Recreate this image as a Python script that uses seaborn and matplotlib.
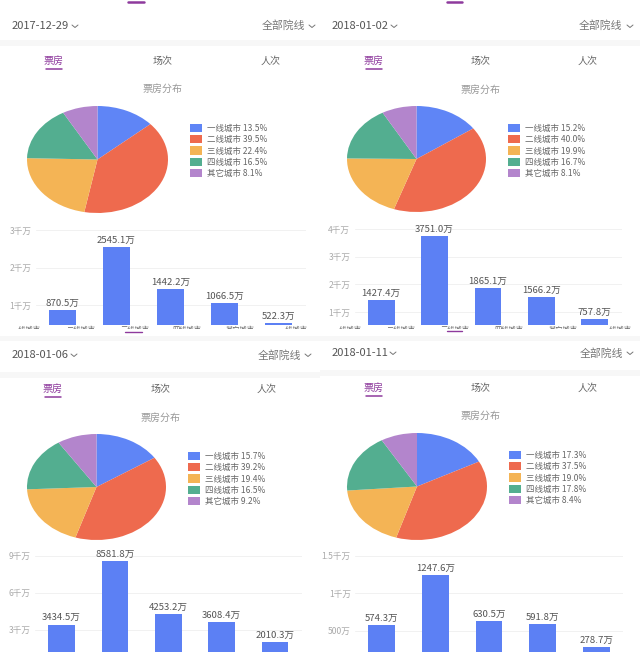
import matplotlib
matplotlib.use('Agg')
import matplotlib.pyplot as plt
from matplotlib.patches import Rectangle
import seaborn as sns

W, H = 640, 652

dates = ['2017-12-29', '2018-01-02', '2018-01-06', '2018-01-11']
city_names = ['一线城市', '二线城市', '三线城市', '四线城市', '其它城市']
colors = ['#5F85F6', '#EE6A4E', '#F4B455', '#53AE90', '#B385CC']
bar_color = '#5C80F4'
purple = '#8E3A9D'

shares_a = [13.5, 39.5, 22.4, 16.5, 8.1]
shares_b = [15.2, 40.0, 19.9, 16.7, 8.1]
shares_c = [15.7, 39.2, 19.4, 16.5, 9.2]
shares_d = [17.3, 37.5, 19.0, 17.8, 8.4]

box_a = [870.5, 2545.1, 1442.2, 1066.5, 522.3]
box_b = [1427.4, 3751.0, 1865.1, 1566.2, 757.8]
box_c = [3434.5, 8581.8, 4253.2, 3608.4, 2010.3]
box_d = [574.3, 1247.6, 630.5, 591.8, 278.7]

ticks_a = [1000, 2000, 3000]
ticks_b = [1000, 2000, 3000, 4000]
ticks_c = [3000, 6000, 9000]
ticks_d = [500, 1000, 1500]
tick_labels_a = ['1千万', '2千万', '3千万']
tick_labels_b = ['1千万', '2千万', '3千万', '4千万']
tick_labels_c = ['3千万', '6千万', '9千万']
tick_labels_d = ['500万', '1千万', '1.5千万']

# layout of each screenshot panel, all in pixels of the picture
panels = [
  dict(date=dates[0], shares=shares_a, box=box_a, ticks=ticks_a, tick_labels=tick_labels_a,
       pie=(27, 106, 168, 213), legend=(190, 124), bars=(35.5, 230, 305.5, 325), low=477,
       date_xy=(12, 26), all_xy=(262, 26), tab_x=(54, 163, 271), tab_y=61, title_y=89,
       title_x=163, chev=(75, 312), frag_y=326, frag_x=(26, 81, 135, 187, 240, 293),
       top_mark=(128, 144), low_mark=(125, 142, 331.5)),
  dict(date=dates[1], shares=shares_b, box=box_b, ticks=ticks_b, tick_labels=tick_labels_b,
       pie=(347, 106, 486, 212), legend=(508, 124), bars=(354.5, 229, 621.5, 325), low=540,
       date_xy=(332, 26), all_xy=(579, 26), tab_x=(374, 481, 588), tab_y=61, title_y=90,
       title_x=481, chev=(394, 630), frag_y=326, frag_x=(347, 401, 455, 509, 563, 617),
       top_mark=(447, 462), low_mark=(447, 462, 330.5)),
  dict(date=dates[2], shares=shares_c, box=box_c, ticks=ticks_c, tick_labels=tick_labels_c,
       pie=(27, 434, 166, 540), legend=(188, 452), bars=(35, 555.7, 301.5, 652), low=1210,
       date_xy=(12, 355), all_xy=(258, 355), tab_x=(53, 161, 267), tab_y=389, title_y=418,
       title_x=161, chev=(74, 308), frag_y=None, frag_x=(), top_mark=None, low_mark=None),
  dict(date=dates[3], shares=shares_d, box=box_d, ticks=ticks_d, tick_labels=tick_labels_d,
       pie=(347, 433, 487, 540), legend=(509, 451), bars=(355, 555.7, 623, 652), low=213,
       date_xy=(332, 353), all_xy=(580, 353), tab_x=(374, 481, 588), tab_y=388, title_y=416,
       title_x=481, chev=(393, 630), frag_y=None, frag_x=(), top_mark=None, low_mark=None),
]

sns.set_theme(style='white')
plt.rcParams['font.family'] = ['Noto Sans CJK SC', 'DejaVu Sans']


def px_rect(x0, y0, x1, y1):
  return [x0 / W, 1 - y1 / H, (x1 - x0) / W, (y1 - y0) / H]


def draw_header(bg, p):
  x, y = p['date_xy']
  bg.text(x, y, p['date'], fontsize=8, color='#555555', va='center', ha='left')
  bg.text(p['all_xy'][0], p['all_xy'][1], '全部院线', fontsize=7.8, color='#777777', va='center', ha='left')
  for cx, cy in ((p['chev'][0], y), (p['chev'][1], p['all_xy'][1])):
    bg.plot([cx - 3, cx, cx + 3], [cy - 1, cy + 1.5, cy - 1], color='#777777', lw=0.7)

  for i, (tx, name) in enumerate(zip(p['tab_x'], ['票房', '场次', '人次'])):
    bg.text(tx, p['tab_y'], name, fontsize=7.2, va='center', ha='center',
            color=purple if i == 0 else '#666666')
  bg.plot([p['tab_x'][0] - 8, p['tab_x'][0] + 8], [p['tab_y'] + 7.5] * 2, color=purple, lw=1.1)
  bg.text(p['title_x'], p['title_y'], '票房分布', fontsize=7.2, color='#999999', va='center', ha='center')

  # bits of the next screen that stick out under the bars
  if p['top_mark']:
    bg.plot(p['top_mark'], [1.5, 1.5], color=purple, lw=1.8)
  if p['low_mark']:
    a, b, ym = p['low_mark']
    bg.plot([a, b], [ym, ym], color=purple, lw=1)
  if p['frag_y']:
    clip = Rectangle((p['bars'][0] - 30, p['frag_y'] - 1), p['bars'][2] - p['bars'][0] + 40, 3.5,
                     transform=bg.transData)
    for k, fx in enumerate(p['frag_x']):
      t = bg.text(fx, p['frag_y'] + 4, city_names[k % 5], fontsize=5.2, color='#666666',
                  va='center', ha='center', clip_on=True)
      t.set_clip_path(clip)


def draw_pie(fig, p):
  ax = fig.add_axes(px_rect(*p['pie']))
  wedges, _ = ax.pie(p['shares'], colors=colors, startangle=90, counterclock=False, radius=1,
                     wedgeprops=dict(linewidth=0))
  ax.set_aspect('auto')
  ax.set_xlim(-1, 1)
  ax.set_ylim(-1, 1)
  labels = ['{} {}%'.format(n, s) for n, s in zip(city_names, p['shares'])]
  lx, ly = p['legend']
  fig.legend(wedges, labels, loc='upper left', bbox_to_anchor=(lx / W, 1 - ly / H),
             frameon=False, fontsize=6.1, labelcolor='#666666', borderpad=0, borderaxespad=0,
             handlelength=1.45, handleheight=1.1, handletextpad=0.5, labelspacing=0.26)


def draw_bars(fig, p):
  ax = fig.add_axes(px_rect(*p['bars']))
  ax.patch.set_alpha(0)
  sns.barplot(x=city_names, y=p['box'], color=bar_color, saturation=1, width=0.5, linewidth=0, ax=ax)
  ax.set_ylim(p['low'], p['ticks'][-1])
  ax.set_xlim(-0.5, 4.5)
  ax.set_yticks(p['ticks'], p['tick_labels'], fontsize=6.2, color='#aaaaaa')
  ax.set_xticks([])
  ax.tick_params(axis='y', length=0, pad=3)
  ax.grid(axis='y', color='#f1f1f1', lw=0.7)
  ax.set_axisbelow(True)
  sns.despine(ax=ax, left=True, bottom=True, top=True, right=True)
  ax.bar_label(ax.containers[0], labels=['{:.1f}万'.format(v) for v in p['box']],
               fontsize=6.9, color='#555555', padding=1.5)


fig = plt.figure(figsize=(W / 100, H / 100), dpi=100, facecolor='white')
bg = fig.add_axes([0, 0, 1, 1])
bg.set_xlim(0, W)
bg.set_ylim(H, 0)
bg.axis('off')

# pale bands between the header rows
for x0, x1, y0, y1 in [(0, 320, 40, 46), (320, 640, 40, 46), (0, 320, 372, 378),
                       (320, 640, 370, 376), (0, 640, 336, 341)]:
  bg.add_patch(Rectangle((x0, y0), x1 - x0, y1 - y0, color='#f7f7f7', lw=0))

for panel in panels:
  draw_header(bg, panel)
  draw_pie(fig, panel)
  draw_bars(fig, panel)

fig.savefig('out.png', dpi=100)
